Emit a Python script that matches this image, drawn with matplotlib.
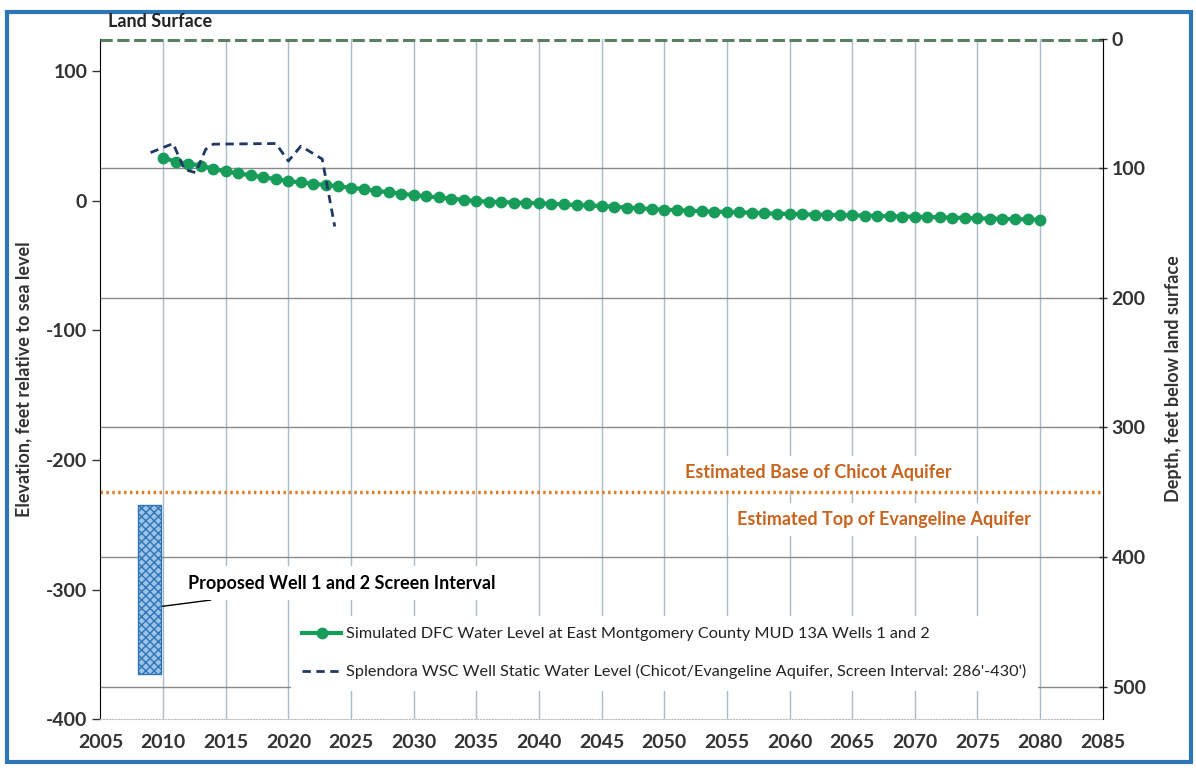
import matplotlib
matplotlib.use("Agg")
import matplotlib.pyplot as plt
from matplotlib.patches import Rectangle

plt.rcParams['font.family'] = ['Lato', 'DejaVu Sans']
plt.rcParams['axes.unicode_minus'] = False

# Simulated DFC water level (elevation, ft msl), one point per year 2010-2080
sim_years = list(range(2010, 2081))
sim_elev = [33.0, 30.0, 28.5, 27.0, 24.5, 22.5, 21.0, 19.5, 18.0, 16.5,
            15.0, 14.0, 13.0, 12.0, 11.0, 10.0, 8.8, 7.6, 6.4, 5.3,
            4.2, 3.3, 2.4, 1.5, 0.5, -0.4, -0.8, -1.2, -1.5, -1.8,
            -2.0, -2.5, -3.0, -3.4, -3.8, -4.2, -4.8, -5.4, -6.0, -6.5,
            -7.0, -7.4, -7.8, -8.2, -8.5, -8.8, -9.1, -9.4, -9.8, -10.1,
            -10.4, -10.6, -10.8, -11.0, -11.2, -11.4, -11.6, -11.8, -12.1, -12.3,
            -12.5, -12.7, -12.9, -13.2, -13.4, -13.7, -13.9, -14.1, -14.3, -14.5,
            -14.7]

# Splendora WSC well static water level
spl_years = [2009.0, 2010.8, 2011.7, 2012.6, 2013.4, 2014.0, 2019.0, 2020.0, 2021.0, 2022.7, 2023.7]
spl_elev = [37.0, 44.0, 24.0, 21.5, 39.5, 43.5, 44.0, 30.5, 42.0, 32.0, -20.0]

land_surface = 125
chicot_base = -225
screen_top = -235
screen_bottom = -365
screen_year = 2008.9

x_ticks = list(range(2005, 2090, 5))
elev_ticks = [-400, -300, -200, -100, 0, 100]
depth_ticks = [0, 100, 200, 300, 400, 500]

green = '#179C5A'
navy = '#1F3864'
orange = '#C8641E'
tick_color = '#333333'

fig = plt.figure(figsize=(11.96, 7.7), dpi=100)
ax = fig.add_axes([0.084, 0.066, 0.838, 0.884])

ax.set_xlim(2005, 2085)
ax.set_ylim(-400, land_surface)

# vertical grid lines
for x in x_ticks[1:-1]:
    ax.axvline(x, color='#A9BCC9', lw=1, zorder=0)
# horizontal grid lines come from depth axis
for d in depth_ticks[1:]:
    ax.axhline(land_surface - d, color='#8a8a8a', lw=1, zorder=0.5)

# land surface line
ax.axhline(land_surface - 0.8, color='#5a7f62', lw=2.2, ls=(0, (4, 1.5)), zorder=3, clip_on=False)

# estimated base of Chicot
ax.axhline(chicot_base, color='#E07B22', lw=2.5, ls=(0, (0.7, 1.0)), zorder=2)

# screen interval bar
ax.bar(screen_year, screen_top - screen_bottom, bottom=screen_bottom, width=1.8,
       color='#9DC3E6', edgecolor='#2E75B6', hatch='xxxx', lw=1, zorder=3)

ax.plot(sim_years, sim_elev, color=green, lw=3, marker='o', ms=7.5, zorder=4,
        label='Simulated DFC Water Level at East Montgomery County MUD 13A Wells 1 and 2')
ax.plot(spl_years, spl_elev, color=navy, lw=2, ls=(0, (3, 2)), zorder=5,
        label="Splendora WSC Well Static Water Level (Chicot/Evangeline Aquifer, Screen Interval: 286'-430')")

ax.text(2062.3, -210, 'Estimated Base of Chicot Aquifer', color=orange, fontsize=13,
        fontweight='bold', ha='center', va='center', zorder=1.5,
        bbox=dict(facecolor='white', edgecolor='none', pad=6))
ax.text(2067.5, -246, 'Estimated Top of Evangeline Aquifer', color=orange, fontsize=13,
        fontweight='bold', ha='center', va='center', zorder=1.5,
        bbox=dict(facecolor='white', edgecolor='none', pad=6))

ax.annotate('Proposed Well 1 and 2 Screen Interval', xy=(2009.9, -313), xytext=(2012.0, -295),
            fontsize=13, fontweight='bold', color='black', ha='left', va='center', zorder=1.5,
            bbox=dict(facecolor='white', edgecolor='none', pad=6),
            arrowprops=dict(arrowstyle='-', color='black', lw=1, shrinkA=1, shrinkB=0))

leg = ax.legend(loc='upper left', bbox_to_anchor=(0.19, 0.152), frameon=True, fontsize=11.7,
                handlelength=2.4, handletextpad=0.3, labelspacing=1.4, borderpad=0.7,
                borderaxespad=0)
leg.get_frame().set_facecolor('white')
leg.get_frame().set_edgecolor('none')
leg.get_frame().set_alpha(1)
leg.set_zorder(1.5)
for t in leg.get_texts():
    t.set_color('#222222')

ax.set_xticks(x_ticks)
ax.set_yticks(elev_ticks)
ax.tick_params(axis='both', labelsize=14, colors=tick_color, length=6, width=1)
ax.tick_params(axis='x', length=0, pad=11)
for lab in ax.get_xticklabels() + ax.get_yticklabels():
    lab.set_fontweight('bold')
ax.set_ylabel('Elevation, feet relative to sea level', fontsize=13, fontweight='bold',
              color=tick_color, labelpad=10)

ax.spines['top'].set_visible(False)
ax.spines['bottom'].set_color('#bbbbbb')
ax.spines['bottom'].set_linestyle(':')
ax.spines['left'].set_color('black')
ax.spines['right'].set_visible(False)

ax2 = ax.twinx()
ax2.set_ylim(0, land_surface + 400)
ax2.invert_yaxis()
ax2.set_yticks(depth_ticks)
ax2.tick_params(axis='y', labelsize=14, colors=tick_color, length=6, width=1, direction='inout')
for lab in ax2.get_yticklabels():
    lab.set_fontweight('bold')
ax2.set_ylabel('Depth, feet below land surface', fontsize=13, fontweight='bold',
               color=tick_color, rotation=90, labelpad=14)
for s in ['top', 'left', 'bottom']:
    ax2.spines[s].set_visible(False)
ax2.spines['right'].set_color('black')
ax2.spines['right'].set_linestyle((0, (1, 0.5)))

fig.text(0.09, 0.972, 'Land Surface', fontsize=13, fontweight='bold', color='#222222',
         ha='left', va='center')

fig.patches.append(Rectangle((0.006, 0.01), 0.99, 0.975, transform=fig.transFigure,
                             fill=False, edgecolor='#2E75B6', lw=3))

fig.savefig('out.png', dpi=100)
